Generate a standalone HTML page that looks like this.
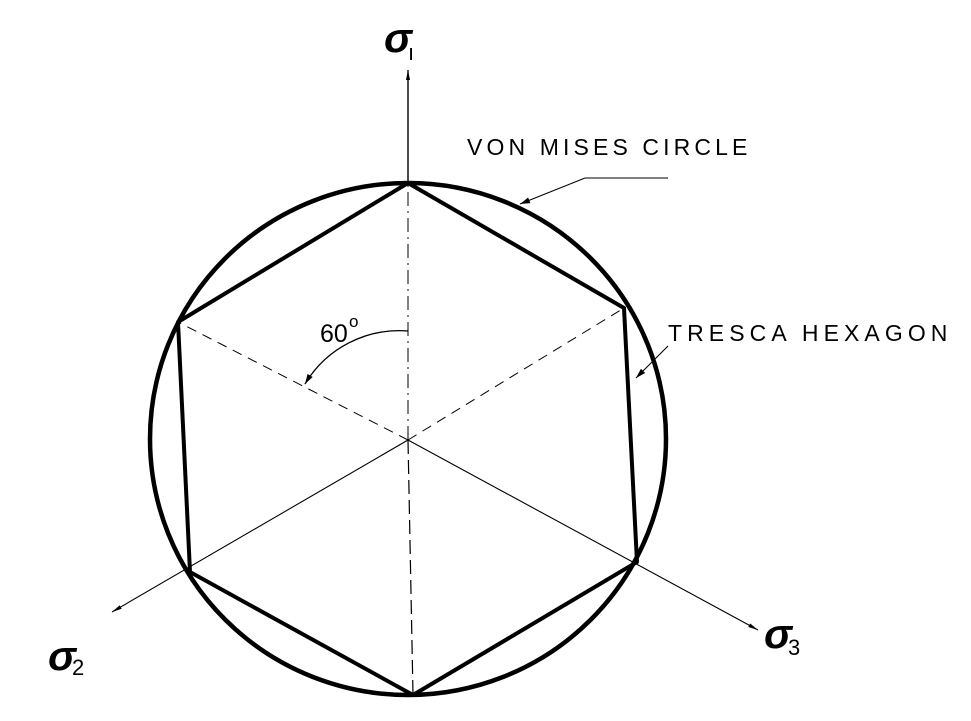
<!DOCTYPE html>
<html><head><style>body{margin:0;background:#fff}svg{display:block}</style></head><body>
<svg width="971" height="721" viewBox="0 0 971 721" xmlns="http://www.w3.org/2000/svg">
<defs><marker id="a" viewBox="0 0 10 10" refX="10" refY="5" markerWidth="10" markerHeight="10" orient="auto" markerUnits="userSpaceOnUse"><path d="M0,2 L10,5 L0,8 Z" fill="#000"/></marker>
<marker id="b" viewBox="0 0 10 10" refX="10" refY="5" markerWidth="16" markerHeight="10" orient="auto" markerUnits="userSpaceOnUse"><path d="M0,3 L10,5 L0,7 Z" fill="#000"/></marker></defs>
<g stroke="#000" fill="none">
<line x1="408" y1="183" x2="408" y2="70" stroke-width="1.4" marker-end="url(#b)"/>
<line x1="408" y1="440" x2="408" y2="183" stroke-width="1" stroke-dasharray="14,5,2,5"/>
<line x1="408" y1="440" x2="413" y2="695" stroke-width="1.2" stroke-dasharray="14,6"/>
<line x1="408" y1="440" x2="178" y2="322" stroke-width="1" stroke-dasharray="10,7"/>
<line x1="408" y1="440" x2="624" y2="308" stroke-width="1" stroke-dasharray="10,7"/>
<line x1="408" y1="440" x2="112" y2="612" stroke-width="1.1" marker-end="url(#b)"/>
<line x1="408" y1="440" x2="758" y2="630" stroke-width="1.1" marker-end="url(#b)"/>
<ellipse cx="408" cy="439" rx="258" ry="256" stroke-width="4.5"/>
<polygon points="408,183 624,308 637,562 413,695 190,572 178,322" stroke-width="4" stroke-linejoin="round"/>
<polyline points="668,178 585,178 520,204" stroke-width="1.1" marker-end="url(#a)"/>
<polyline points="668,346 636,378" stroke-width="1.1" marker-end="url(#a)"/>
<path d="M408,331 A110,110 0 0 0 305,384" stroke-width="1.3" marker-end="url(#a)"/>
</g>
<g font-family="Liberation Sans, sans-serif" fill="#000">
<text x="467" y="155" font-size="23" letter-spacing="2.6" textLength="283" lengthAdjust="spacing">VON MISES CIRCLE</text>
<text x="668" y="341" font-size="23" letter-spacing="2.6" textLength="282" lengthAdjust="spacing">TRESCA HEXAGON</text>
<text x="320" y="342" font-size="25">60</text><text x="349" y="327" font-size="17">o</text>
<text x="384" y="52" font-size="42" font-style="italic" font-weight="bold">σ</text><text x="408" y="60" font-size="22">ı</text>
<text x="48" y="670" font-size="42" font-style="italic" font-weight="bold">σ</text><text x="72" y="675" font-size="22">2</text>
<text x="764" y="648" font-size="42" font-style="italic" font-weight="bold">σ</text><text x="788" y="655" font-size="22">3</text>
</g>
</svg>
</body></html>
